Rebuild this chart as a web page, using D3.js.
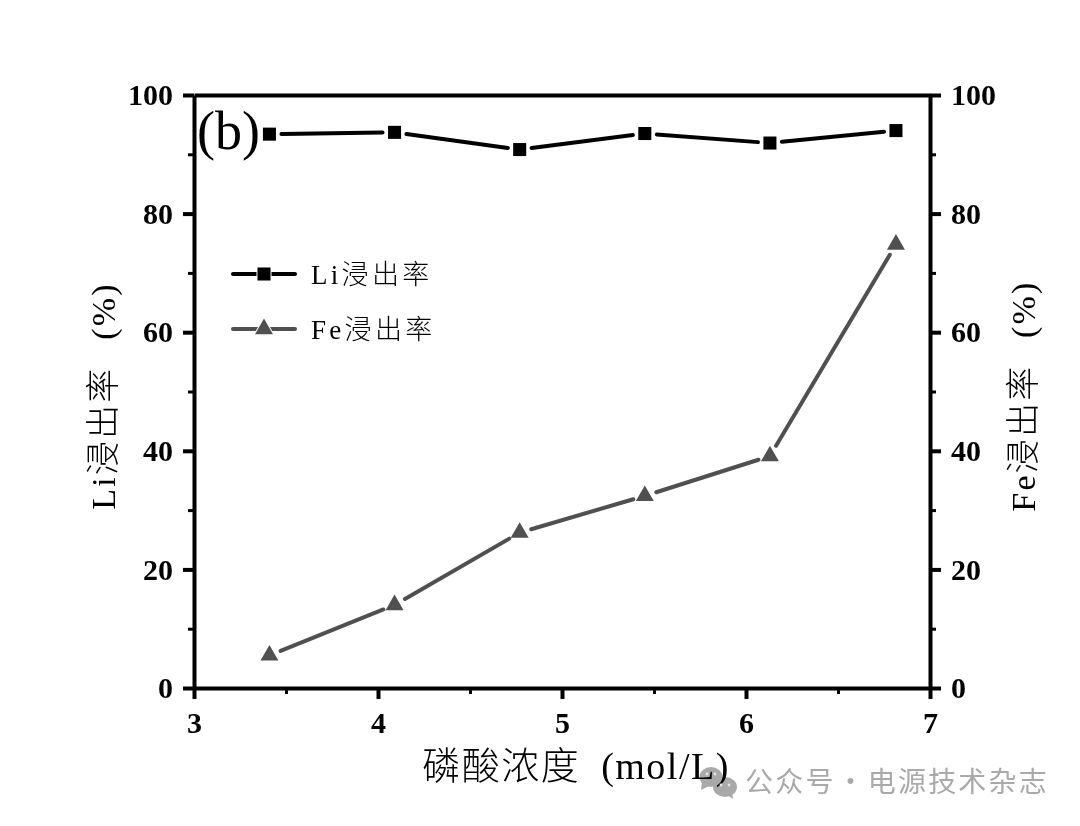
<!DOCTYPE html>
<html>
<head>
<meta charset="utf-8">
<script src="https://cdn.jsdelivr.net/npm/d3@7/dist/d3.min.js"></script>
<style>
  html, body { margin: 0; padding: 0; background: #fff; }
  svg { display: block; }
  text { fill: #000; }
  .tick-label { font-family: "Liberation Serif", serif; font-weight: bold; font-size: 30px; }
  .cjk-label { font-family: "Liberation Serif", "Noto Sans CJK SC", serif; font-weight: 300; }
</style>
</head>
<body>
<svg id="chart" width="1080" height="826"></svg>
<script>
// Data
var concentration = [3.41, 4.09, 4.77, 5.45, 6.13, 6.815];
var liRate = [93.4, 93.7, 90.8, 93.5, 91.9, 94.0];
var feRate = [5.5, 14.0, 26.2, 32.4, 39.1, 74.8];
var xTicks = [3, 4, 5, 6, 7];
var xMinorTicks = [3.5, 4.5, 5.5, 6.5];
var yTicks = [0, 20, 40, 60, 80, 100];
var yMinorTicks = [10, 30, 50, 70, 90];

var svg = d3.select("#chart");
var plotLeft = 194, plotRight = 930, plotTop = 95, plotBottom = 688;
var black = "#000", grey = "#505050";

var xScale = d3.scaleLinear().domain([3, 7]).range([plotLeft, plotRight]);
var yScale = d3.scaleLinear().domain([0, 100]).range([plotBottom, plotTop]);

// Axes: ticks from d3, frame drawn by the domain paths
function styleAxis(g) {
  g.selectAll(".domain").attr("stroke", black).attr("stroke-width", 4);
  g.selectAll(".tick line").attr("stroke", black).attr("stroke-width", 4);
  g.selectAll("text").attr("class", "tick-label").attr("fill", black);
}
function styleMinor(g) {
  g.select(".domain").remove();
  g.selectAll(".tick line").attr("stroke", black).attr("stroke-width", 3);
  g.selectAll("text").remove();
}

svg.append("g").attr("transform", "translate(0," + plotBottom + ")")
  .call(d3.axisBottom(xScale).tickValues(xMinorTicks).tickSize(6)).call(styleMinor);
svg.append("g").attr("transform", "translate(" + plotLeft + ",0)")
  .call(d3.axisLeft(yScale).tickValues(yMinorTicks).tickSize(6)).call(styleMinor);
svg.append("g").attr("transform", "translate(" + plotRight + ",0)")
  .call(d3.axisRight(yScale).tickValues(yMinorTicks).tickSize(6)).call(styleMinor);

svg.append("g").attr("transform", "translate(0," + plotBottom + ")")
  .call(d3.axisBottom(xScale).tickValues(xTicks).tickFormat(d3.format("d")).tickSize(11).tickPadding(13).tickSizeOuter(0))
  .call(styleAxis);
svg.append("g").attr("transform", "translate(" + plotLeft + ",0)")
  .call(d3.axisLeft(yScale).tickValues(yTicks).tickSize(11).tickPadding(10).tickSizeOuter(0))
  .call(styleAxis);
svg.append("g").attr("transform", "translate(" + plotRight + ",0)")
  .call(d3.axisRight(yScale).tickValues(yTicks).tickSize(11).tickPadding(10).tickSizeOuter(0))
  .call(styleAxis);

// Top edge, which has no ticks of its own
svg.append("g").attr("transform", "translate(0," + plotTop + ")")
  .call(d3.axisTop(xScale).tickValues([]).tickSizeOuter(0))
  .call(styleAxis);

// Lines stop a little short of each marker
function unit(d) {
  var dx = d[1][0] - d[0][0], dy = d[1][1] - d[0][1], len = Math.sqrt(dx * dx + dy * dy);
  return [dx / len, dy / len];
}
function drawSegments(values, color, gap) {
  var pts = concentration.map(function(c, i) { return [xScale(c), yScale(values[i])]; });
  svg.append("g").selectAll("line").data(d3.pairs(pts)).enter().append("line")
    .attr("x1", function(d) { return d[0][0] + gap * unit(d)[0]; })
    .attr("y1", function(d) { return d[0][1] + gap * unit(d)[1]; })
    .attr("x2", function(d) { return d[1][0] - gap * unit(d)[0]; })
    .attr("y2", function(d) { return d[1][1] - gap * unit(d)[1]; })
    .attr("stroke", color)
    .attr("stroke-width", 4)
    .attr("stroke-linecap", "round");
  return pts;
}

var squareSym = d3.symbol().type(d3.symbolSquare).size(170);
var triangleSym = d3.symbol().type(d3.symbolTriangle).size(140);

var liPts = drawSegments(liRate, black, 12);
svg.append("g").selectAll("path").data(liPts).enter().append("path")
  .attr("d", squareSym)
  .attr("fill", black)
  .attr("transform", function(d) { return "translate(" + d[0] + "," + d[1] + ")"; });

var fePts = drawSegments(feRate, grey, 12);
svg.append("g").selectAll("path").data(fePts).enter().append("path")
  .attr("d", triangleSym)
  .attr("fill", grey)
  .attr("transform", function(d) { return "translate(" + d[0] + "," + d[1] + ")"; });

// Panel label
svg.append("text")
  .attr("x", 197).attr("y", 149)
  .style("font-family", '"Liberation Serif", serif')
  .style("font-size", "54px")
  .text("(b)");

// Legend
var legendRows = [
  { label: "Li浸出率", color: black, sym: squareSym, y: 274 },
  { label: "Fe浸出率", color: grey, sym: triangleSym, y: 329 }
];
var legend = svg.append("g").selectAll("g").data(legendRows).enter().append("g")
  .attr("transform", function(d) { return "translate(0," + d.y + ")"; });
legend.append("line").attr("x1", 233).attr("x2", 295)
  .attr("stroke", function(d) { return d.color; })
  .attr("stroke-width", 4).attr("stroke-linecap", "round");
legend.append("path")
  .attr("d", function(d) { return d.sym(); })
  .attr("fill", function(d) { return d.color; })
  .attr("stroke", "#fff").attr("stroke-width", 2).attr("paint-order", "stroke")
  .attr("transform", "translate(264,0)");
legend.append("text").attr("class", "cjk-label")
  .attr("x", 311).attr("y", 10)
  .style("font-size", "27px")
  .style("letter-spacing", "3.3px")
  .text(function(d) { return d.label; });

// Axis titles
svg.append("text").attr("class", "cjk-label")
  .attr("transform", "translate(115,396) rotate(-90)")
  .attr("text-anchor", "middle")
  .style("font-size", "34px").style("letter-spacing", "2.2px").style("word-spacing", "16px")
  .text("Li浸出率 (%)");
svg.append("text").attr("class", "cjk-label")
  .attr("transform", "translate(1035,396) rotate(-90)")
  .attr("text-anchor", "middle")
  .style("font-size", "34px").style("letter-spacing", "2.2px").style("word-spacing", "16px")
  .text("Fe浸出率 (%)");
svg.append("text").attr("class", "cjk-label")
  .attr("x", 576).attr("y", 779)
  .attr("text-anchor", "middle")
  .style("font-size", "38px").style("letter-spacing", "1.5px").style("word-spacing", "10px")
  .text("磷酸浓度 (mol/L)");

// Watermark, multiplied so the axis title shows through it
var markColor = "#a9a9a9";
var mark = svg.append("g").attr("fill", markColor).style("mix-blend-mode", "multiply");
mark.append("ellipse").attr("cx", 711).attr("cy", 777).attr("rx", 11.5).attr("ry", 10);
mark.append("path").attr("d", "M702,782L701,790L709,786Z");
mark.append("ellipse").attr("cx", 725).attr("cy", 787).attr("rx", 12).attr("ry", 10);
mark.append("path").attr("d", "M727,795L733,799L732,792Z");
svg.append("g").selectAll("circle").data([[707, 774], [715, 774], [721, 785], [729, 785]]).enter().append("circle")
  .attr("cx", function(d) { return d[0]; })
  .attr("cy", function(d) { return d[1]; })
  .attr("r", 1.4)
  .attr("fill", "#e4e4e4");
svg.append("text")
  .attr("x", 745).attr("y", 792)
  .style("font-family", '"Noto Sans CJK SC", sans-serif')
  .style("font-size", "28px")
  .style("letter-spacing", "2.2px")
  .style("word-spacing", "-7.5px")
  .style("fill", markColor)
  .text("公众号 · 电源技术杂志");
</script>
</body>
</html>
